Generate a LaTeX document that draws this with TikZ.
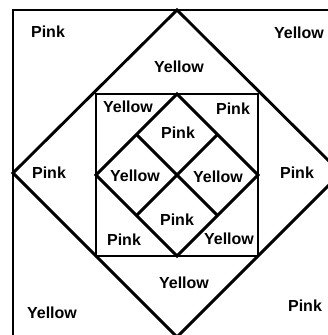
\documentclass[tikz,border=0pt]{standalone}
\usepackage{fontspec}
\setmainfont{Liberation Sans}
\begin{document}
\begin{tikzpicture}[x=1pt,y=-1pt,
  edge/.style={line width=2.9pt,line join=miter,black},
  lbl/.style={font=\fontsize{16}{18}\selectfont\bfseries,inner sep=0pt,text=black}]
\useasboundingbox (0,0) rectangle (328,335);
\fill[white] (0,0) rectangle (328,335);
% outer square (cut by the page edge)
\draw[edge] (13,345) -- (13,10) -- (345,10);
% outer diamond
\draw[edge] (177,10) -- (341,173) -- (177,337) -- (13,173) -- cycle;
% inner square
\draw[edge] (96,94) rectangle (258,256);
% inner diamond
\draw[edge] (177,94) -- (258,175) -- (177,256) -- (96,175) -- cycle;
% inner cross
\draw[edge] (136.5,134.5) -- (217.5,215.5);
\draw[edge] (217.5,134.5) -- (136.5,215.5);
% labels
\node[lbl] (l1) at (48,32) {Pink};
\node[lbl] (l2) at (299,33) {Yellow};
\node[lbl] (l3) at (179,67) {Yellow};
\node[lbl] (l4) at (128,107) {Yellow};
\node[lbl] (l5) at (233,109) {Pink};
\node[lbl] (l6) at (178,133) {Pink};
\node[lbl] (l7) at (49,173) {Pink};
\node[lbl] (l8) at (135,176) {Yellow};
\node[lbl] (l9) at (218,177) {Yellow};
\node[lbl] (l10) at (297,173) {Pink};
\node[lbl] (l11) at (177,220) {Pink};
\node[lbl] (l12) at (124,240) {Pink};
\node[lbl] (l13) at (229,239) {Yellow};
\node[lbl] (l14) at (184,283) {Yellow};
\node[lbl] (l15) at (52,313) {Yellow};
\node[lbl] (l16) at (305,306) {Pink};
\end{tikzpicture}
\end{document}
